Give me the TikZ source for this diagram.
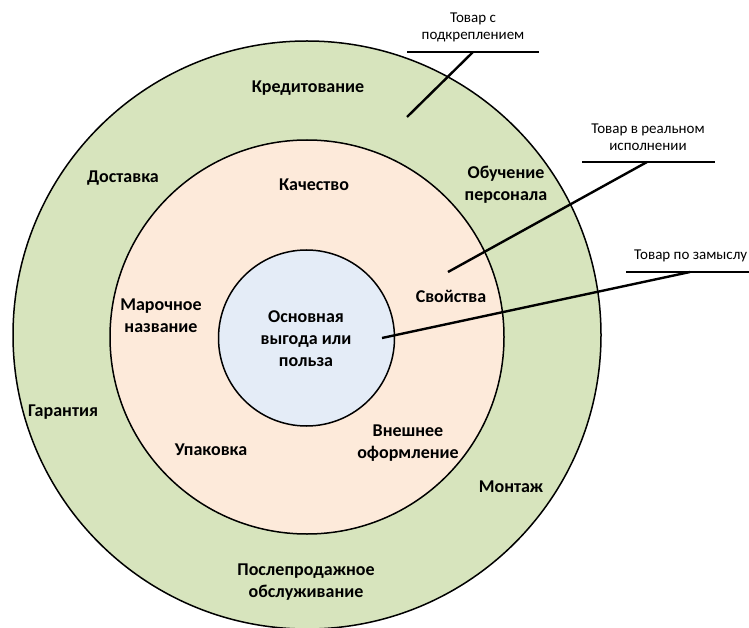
\documentclass[tikz,border=0pt]{standalone}
\usepackage{fontspec}
\setmainfont{Carlito}
\definecolor{ringgreen}{HTML}{D7E4BD}
\definecolor{ringpeach}{HTML}{FDEADA}
\definecolor{coreblue}{HTML}{E4ECF7}
\begin{document}
\begin{tikzpicture}[x=1pt,y=-1pt,
  ring/.style={circle, draw=black, line width=1.5pt, inner sep=0pt},
  lbl/.style={align=center, font=\bfseries\fontsize{18}{22}\selectfont, inner sep=0pt},
  tag/.style={align=center, font=\fontsize{15}{17}\selectfont, inner sep=0pt},
  leader/.style={line width=2.4pt}]
\useasboundingbox (0,0) rectangle (749,628);
\node[ring, fill=ringgreen, minimum size=588pt] (outer) at (307,335) {};
\node[ring, fill=ringpeach, minimum size=394pt] (middle) at (307,337) {};
\node[ring, fill=coreblue, minimum size=176pt] (inner) at (306.5,338) {};

\node[lbl] (core) at (306,339) {Основная\\выгода или\\польза};
\node[lbl] (kred) at (308,88) {Кредитование};
\node[lbl] (dost) at (123,178) {Доставка};
\node[lbl] (kach) at (314,185) {Качество};
\node[lbl] (obuch) at (506,185) {Обучение\\персонала};
\node[lbl] (marka) at (161,316) {Марочное\\название};
\node[lbl] (svoy) at (451,296) {Свойства};
\node[lbl] (garant) at (63,412) {Гарантия};
\node[lbl] (upak) at (211,450) {Упаковка};
\node[lbl] (vnesh) at (408,443) {Внешнее\\оформление};
\node[lbl] (mont) at (511,487) {Монтаж};
\node[lbl] (posle) at (306,582) {Послепродажное\\обслуживание};

% label 1
\node[tag] (t1) at (473,27) {Товар с\\подкреплением};
\coordinate (u1a) at (407,52);
\coordinate (u1b) at (539,52);
\coordinate (u1k) at (473,52);
\coordinate (e1) at (407,117);
\draw[leader] (u1a) -- (u1b);
\draw[leader] (u1k) -- (e1);

% label 2
\node[tag] (t2) at (648,137) {Товар в реальном\\исполнении};
\coordinate (u2a) at (582,162);
\coordinate (u2b) at (715,162);
\coordinate (u2k) at (647,162);
\coordinate (e2) at (448,272);
\draw[leader] (u2a) -- (u2b);
\draw[leader] (u2k) -- (e2);

% label 3
\node[tag, anchor=west] (t3) at (634,256) {Товар по замыслу};
\coordinate (u3a) at (626,272);
\coordinate (u3b) at (760,272);
\coordinate (u3k) at (690,272);
\coordinate (e3) at (382,338);
\draw[leader] (u3a) -- (u3b);
\draw[leader] (u3k) -- (e3);
\end{tikzpicture}
\end{document}
